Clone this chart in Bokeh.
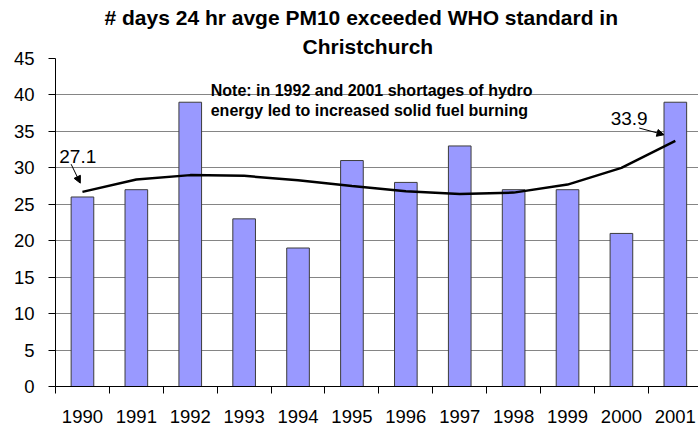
from bokeh.plotting import figure
from bokeh.models import Range1d, FixedTicker, Title, Label, Arrow, NormalHead, ColumnDataSource
from bokeh.embed import file_html
from bokeh.resources import INLINE

# ---- data ----
years = [1990, 1991, 1992, 1993, 1994, 1995, 1996, 1997, 1998, 1999, 2000, 2001]
days_exceeded = [26, 27, 39, 23, 19, 31, 28, 33, 27, 27, 21, 39]
trend_values = [26.7, 28.4, 29.0, 28.9, 28.3, 27.5, 26.8, 26.4, 26.6, 27.7, 30.0, 33.7]
y_ticks = [0, 5, 10, 15, 20, 25, 30, 35, 40, 45]
year_labels = [str(y) for y in years]
title_line1 = "# days 24 hr avge PM10 exceeded WHO standard in"
title_line2 = "Christchurch"
note_line1 = "Note: in 1992 and 2001 shortages of hydro"
note_line2 = "energy led to increased solid fuel burning"
start_label = "27.1"
end_label = "33.9"

FONT = "Liberation Sans"

src = ColumnDataSource(dict(year=years, days=days_exceeded, trend=trend_values))

p = figure(width=698, height=430,
           x_range=Range1d(years[0] - 0.5, years[0] - 0.5 + 11.93),
           y_range=Range1d(0, 45),
           output_backend="svg", toolbar_location=None, title=None,
           min_border_left=55, min_border_right=0, min_border_top=0, min_border_bottom=44)
p.background_fill_color = "white"
p.border_fill_color = "white"
p.outline_line_color = None

# titles (first added = closest to the frame)
t2 = Title(text=title_line2, text_font=FONT, text_font_size="21px", text_font_style="bold",
           text_color="black", align="left", offset=247, standoff=2)
p.add_layout(t2, "above")
t1 = Title(text=title_line1, text_font=FONT, text_font_size="21px", text_font_style="bold",
           text_color="black", align="left", offset=49, standoff=6)
p.add_layout(t1, "above")

# bars
p.vbar(x="year", top="days", width=0.42, source=src,
       fill_color="#9999FF", line_color="#3c3c3c", line_width=1)

# trend line
p.line(x="year", y="trend", source=src, line_color="black", line_width=2.5)

# grid
p.xgrid.grid_line_color = None
p.ygrid.grid_line_color = "#858585"
p.ygrid.grid_line_width = 1.2
p.ygrid.ticker = FixedTicker(ticks=y_ticks)

# y axis
p.yaxis.ticker = FixedTicker(ticks=y_ticks)
p.yaxis.axis_line_color = "black"
p.yaxis.major_tick_line_color = "black"
p.yaxis.major_tick_out = 7
p.yaxis.major_tick_in = 0
p.yaxis.minor_tick_line_color = None
p.yaxis.major_label_text_font = FONT
p.yaxis.major_label_text_font_size = "18.5px"
p.yaxis.major_label_text_color = "black"
p.yaxis.major_label_standoff = 14

# x axis: labels at year centres, tick marks at category boundaries
boundaries = [y - 0.5 for y in years] + [years[-1] + 0.5]
p.xaxis.ticker = FixedTicker(ticks=years, minor_ticks=boundaries)
p.xaxis.major_label_overrides = {y: lab for y, lab in zip(years, year_labels)}
p.xaxis.axis_line_color = "black"
p.xaxis.major_tick_line_color = None
p.xaxis.major_tick_out = 0
p.xaxis.major_tick_in = 0
p.xaxis.minor_tick_line_color = "black"
p.xaxis.minor_tick_out = 7
p.xaxis.minor_tick_in = 0
p.xaxis.major_label_text_font = FONT
p.xaxis.major_label_text_font_size = "18.5px"
p.xaxis.major_label_text_color = "black"
p.xaxis.major_label_standoff = 16

# note
p.add_layout(Label(x=1992.38, y=40.64, text=note_line1, text_font=FONT, text_font_size="16px",
                   text_font_style="bold", text_color="black", text_baseline="alphabetic"))
p.add_layout(Label(x=1992.38, y=37.88, text=note_line2, text_font=FONT, text_font_size="16px",
                   text_font_style="bold", text_color="black", text_baseline="alphabetic"))

# end annotations
p.add_layout(Label(x=1989.57, y=31.6, text=start_label, text_font=FONT, text_font_size="19px",
                   text_color="black", text_baseline="alphabetic"))
p.add_layout(Label(x=1999.8, y=36.8, text=end_label, text_font=FONT, text_font_size="19px",
                   text_color="black", text_baseline="alphabetic"))
p.add_layout(Arrow(end=NormalHead(size=7, fill_color="black", line_color="black"),
                   x_start=1989.79, y_start=30.5, x_end=1989.96, y_end=27.9,
                   line_color="black", line_width=1))
p.add_layout(Arrow(end=NormalHead(size=7, fill_color="black", line_color="black"),
                   x_start=2000.33, y_start=35.46, x_end=2000.79, y_end=34.54,
                   line_color="black", line_width=1))

open("out.html", "w").write(file_html(p, INLINE))
